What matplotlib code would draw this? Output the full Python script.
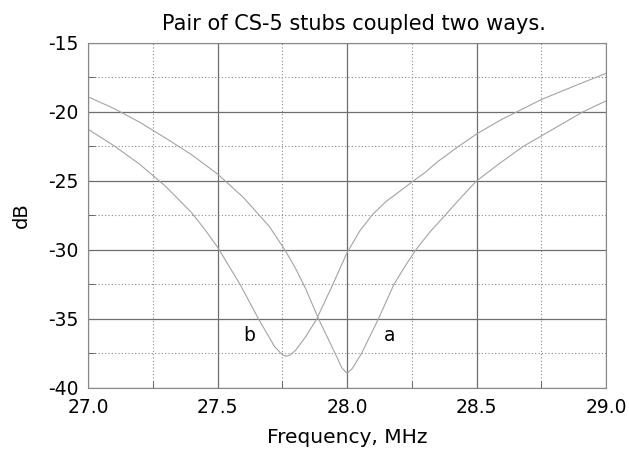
import matplotlib.pyplot as plt
from matplotlib.ticker import MultipleLocator

plt.rcParams['font.family'] = ['DejaVu Sans']
plt.rcParams['axes.unicode_minus'] = False

# Response of the two coupling arrangements, frequency in MHz, level in dB
freq_a = [27.0, 27.1, 27.2, 27.3, 27.4, 27.5, 27.6, 27.7, 27.76, 27.8, 27.84,
          27.89, 27.954, 27.98, 28.0, 28.02, 28.056, 28.121, 28.181, 28.22,
          28.265, 28.32, 28.378, 28.44, 28.5, 28.591, 28.68, 28.75, 28.91, 29.0]
db_a = [-18.9, -19.75, -20.75, -21.9, -23.1, -24.5, -26.2, -28.3, -30.0, -31.3,
        -32.8, -35.0, -37.5, -38.55, -38.95, -38.6, -37.5, -35.0, -32.5, -31.3,
        -30.0, -28.7, -27.5, -26.2, -25.0, -23.7, -22.5, -21.74, -20.0, -19.2]

freq_b = [27.0, 27.1, 27.2, 27.3, 27.4, 27.45, 27.5, 27.587, 27.658, 27.72,
          27.75, 27.765, 27.78, 27.80, 27.84, 27.883, 27.945, 28.0, 28.05,
          28.1, 28.15, 28.2, 28.256, 28.3, 28.35, 28.43, 28.5, 28.591, 28.655,
          28.75, 28.9, 29.0]
db_b = [-21.25, -22.45, -23.8, -25.4, -27.3, -28.5, -29.8, -32.5, -35.0, -37.0,
        -37.6, -37.7, -37.62, -37.3, -36.3, -35.0, -32.5, -30.2, -28.6,
        -27.4, -26.5, -25.8, -25.0, -24.4, -23.6, -22.5, -21.6, -20.6, -20.0,
        -19.1, -17.95, -17.2]

x_ticks = [27.0, 27.5, 28.0, 28.5, 29.0]
x_labels = ['27.0', '27.5', '28.0', '28.5', '29.0']
y_ticks = [-40, -35, -30, -25, -20, -15]

fig = plt.figure(figsize=(6.29, 4.5), dpi=100)
ax = fig.add_axes([0.140, 0.138, 0.8235, 0.7665])

ax.plot(freq_a, db_a, color='#a4a4a4', lw=0.8)
ax.plot(freq_b, db_b, color='#a4a4a4', lw=0.8)

ax.text(28.166, -36.2, 'a', fontsize=13.5, ha='center', va='center')
ax.text(27.623, -36.2, 'b', fontsize=13.5, ha='center', va='center')

ax.set_xlim(27.0, 29.0)
ax.set_ylim(-40, -15)
ax.set_xticks(x_ticks)
ax.set_xticklabels(x_labels)
ax.set_yticks(y_ticks)
ax.xaxis.set_minor_locator(MultipleLocator(0.25))
ax.yaxis.set_minor_locator(MultipleLocator(2.5))

ax.grid(which='major', color='#6e6e6e', lw=0.9, ls='-')
ax.grid(which='minor', color='#8a8a8a', lw=0.8, ls=(0, (1, 2)))
ax.set_axisbelow(True)

ax.tick_params(which='major', length=0, labelsize=13.5, pad=7)
ax.tick_params(which='minor', direction='in', length=5, color='#555555')
ax.tick_params(axis='x', which='major', pad=7)
for sp in ax.spines.values():
    sp.set_color('#888888')

ax.set_title('Pair of CS-5 stubs coupled two ways.', fontsize=15, pad=9, x=0.513)
ax.set_xlabel('Frequency, MHz', fontsize=14.5, labelpad=8)
ax.set_ylabel('dB', fontsize=14, labelpad=12)

fig.savefig('out.png', dpi=100)
